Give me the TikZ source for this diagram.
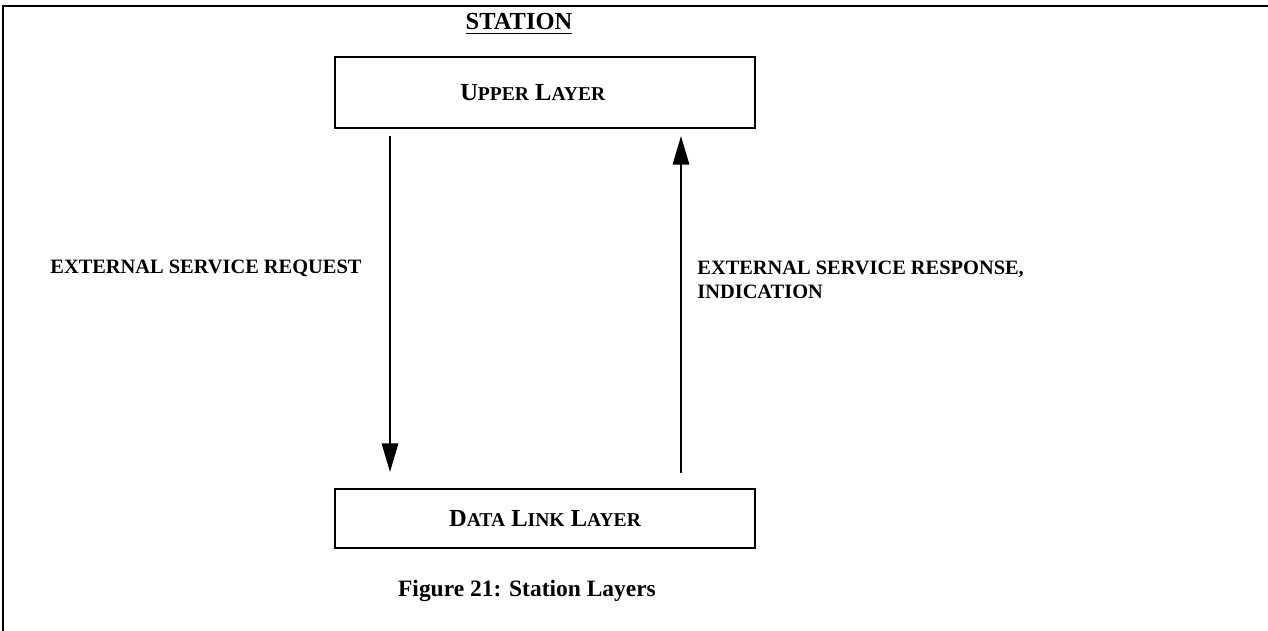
\documentclass[tikz,border=0pt]{standalone}
\usepackage{fontspec}
\setmainfont{Liberation Serif}
\usepackage{tikz}
\usetikzlibrary{arrows.meta, positioning}
% fake small caps: big first letter, smaller rest
\newcommand{\scword}[2]{#1{\fontsize{9.6}{11}\selectfont #2}}

\begin{document}
\begin{tikzpicture}[x=0.49pt, y=-0.49pt,
      >={Triangle[length=14pt, width=8pt]},
      layer/.style={draw, line width=1pt, inner sep=0pt, font=\bfseries\fontsize{12}{14}\selectfont},
      lbl/.style={inner sep=0pt, font=\bfseries\fontsize{10}{12}\selectfont},
      flow/.style={->, line width=1pt}]
    \useasboundingbox (0,0) rectangle (1268,631);
    % frame
    \draw[line width=1.2pt] (3,631) -- (3,6) -- (1268,6);
    \node[lbl, font=\bfseries\fontsize{12}{14}\selectfont] (station) at (519,24) {\underline{STATION}};
    \node[layer, minimum width=205.5pt, minimum height=34.5pt] (upper) at (545,92.5)
      {\raisebox{-1pt}{\scword{U}{PPER} \scword{L}{AYER}}\hspace*{12pt}};
    \node[layer, minimum width=205.5pt, minimum height=28.5pt] (dll) at (545,518.5)
      {\raisebox{-1pt}{\scword{D}{ATA} \scword{L}{INK} \scword{L}{AYER}}};
    \coordinate (reqtop) at (390,136);
    \coordinate (reqbot) at (390,472);
    \coordinate (resbot) at (681,473);
    \coordinate (restop) at (681,136);
    \draw[flow] (reqtop) -- (reqbot);
    \draw[flow] (resbot) -- (restop);
    \node[lbl, anchor=west] (req) at (50,268) {EXTERNAL SERVICE REQUEST};
    \node[lbl, anchor=west, align=left] (res) at (697,280) {EXTERNAL SERVICE RESPONSE,\\INDICATION};
    \node[lbl, font=\bfseries\fontsize{11.5}{14}\selectfont] (caption) at (527,591) {Figure 21: Station Layers};
  \end{tikzpicture}
\end{document}
